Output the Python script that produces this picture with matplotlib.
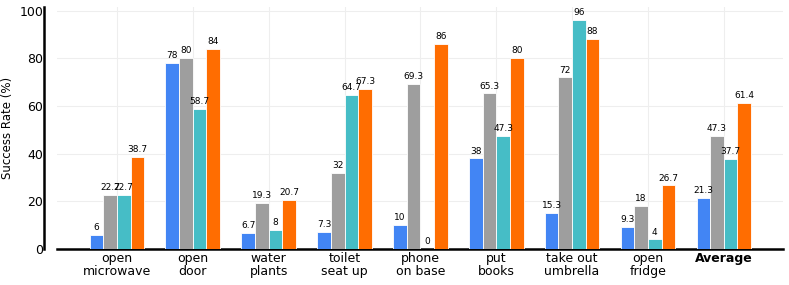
import matplotlib.pyplot as plt
import numpy as np

tasks = ["open\nmicrowave", "open\ndoor", "water\nplants", "toilet\nseat up",
         "phone\non base", "put\nbooks", "take out\numbrella", "open\nfridge", "Average"]
s1 = [6, 78, 6.7, 7.3, 10, 38, 15.3, 9.3, 21.3]
s2 = [22.7, 80, 19.3, 32, 69.3, 65.3, 72, 18, 47.3]
s3 = [22.7, 58.7, 8, 64.7, 0, 47.3, 96, 4, 37.7]
s4 = [38.7, 84, 20.7, 67.3, 86, 80, 88, 26.7, 61.4]
series = [s1, s2, s3, s4]
colors = ['#4285F4', '#9E9E9E', '#46BDC6', '#FF6D01']

fig = plt.figure(figsize=(7.89, 2.85), dpi=100)
ax = fig.add_axes([57/789, 1-249/285, (783-57)/789, 242/285])

x = np.arange(len(tasks))
w = 0.18
for i, (vals, c) in enumerate(zip(series, colors)):
    pos = x + (i - 1.5) * w
    ax.bar(pos, vals, w, color=c, edgecolor='white', linewidth=0.6, zorder=3)
    for p, v in zip(pos, vals):
        ax.annotate('%g' % v, (p, v), xytext=(0, 2), textcoords='offset points',
                    ha='center', va='bottom', fontsize=6.5, zorder=4)

ax.set_xlim(-0.79, 8.78)
ax.set_ylim(0, 101.5)
ax.set_yticks([0, 20, 40, 60, 80, 100])
ax.set_xticks(x)
ax.set_xticklabels(tasks, fontsize=9, linespacing=1.0)
ax.get_xticklabels()[-1].set_fontweight('bold')
ax.tick_params(axis='y', labelsize=9, length=0, pad=1)
ax.tick_params(axis='x', length=0, pad=2)
ax.set_ylabel('Success Rate (%)', fontsize=8.5, labelpad=4)

ax.grid(True, color='#eeeeee', linewidth=0.8, zorder=0)
for s in ['top', 'right']:
    ax.spines[s].set_visible(False)
ax.spines['left'].set_position(('outward', 9))
ax.spines['left'].set_linewidth(1.8)
ax.spines['bottom'].set_linewidth(1.8)

fig.savefig('out.png', dpi=100)
